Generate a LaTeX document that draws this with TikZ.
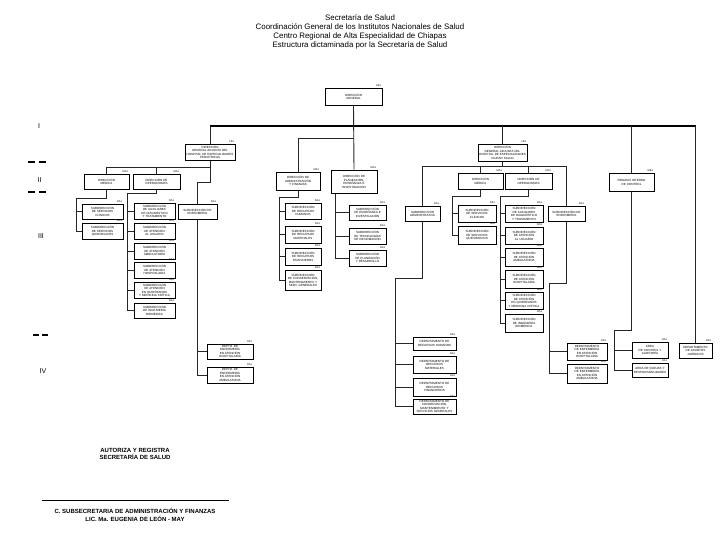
\documentclass[tikz,border=0pt]{standalone}
\usepackage{fontspec}
\setmainfont{Liberation Sans}
\usetikzlibrary{backgrounds}
\tikzset{
  obox/.style={draw=black, line width=0.7pt, fill=white, inner sep=0.3pt, align=center,
    font=\fontsize{3}{3.5}\selectfont},
  codelab/.style={font=\fontsize{2.6}{3}\selectfont, inner sep=0.2pt},
  conn/.style={draw=black!85, line width=0.9pt},
  mainln/.style={draw=black, line width=1.2pt},
  lvl/.style={font=\fontsize{7}{8}\selectfont, inner sep=0pt},
  lvldash/.style={line width=1.4pt},
  sigtext/.style={font=\bfseries\fontsize{6}{7.8}\selectfont, align=center, inner sep=0pt},
}
\newcommand{\orgbox}[7]{%
  \pgfmathsetmacro{\orgW}{#4-#2}%
  \pgfmathsetmacro{\orgH}{#5-#3}%
  \pgfmathsetmacro{\orgT}{#4-#2-1}%
  \pgfmathsetmacro{\orgX}{(#2+#4)/2}%
  \pgfmathsetmacro{\orgY}{(#3+#5)/2}%
  \node[obox, minimum width=\orgW pt, minimum height=\orgH pt, text width=\orgT pt] (#1) at (\orgX,\orgY) {#6};%
  \node[codelab, anchor=south east] at ([xshift=-1pt,yshift=0.6pt]#1.north east) {#7};%
}
\begin{document}
\begin{tikzpicture}[x=1pt,y=-1pt]
\useasboundingbox (0,0) rectangle (720,540);

% title
\node[font=\fontsize{7.9}{9}\selectfont, align=center, inner sep=0pt] (title) at (360,32)
  {Secretaría de Salud\\Coordinación General de los Institutos Nacionales de Salud\\Centro Regional de Alta Especialidad de Chiapas\\Estructura dictaminada por la Secretaría de Salud};

% levels
\node[lvl] (l1) at (39,126) {I};
\node[lvl] (l2) at (39.5,180) {II};
\node[lvl] (l3) at (41,236) {III};
\node[lvl] (l4) at (43,371) {IV};
\draw[lvldash] (28,162) -- (35,162) (39,162) -- (46,162);
\draw[lvldash] (28,192) -- (35,192) (39,192) -- (46,192);
\draw[lvldash] (33,335) -- (39,335) (42,335) -- (48,335);

% top
\orgbox{dg}{325}{88}{382}{105}{DIRECCIÓN\\GENERAL}{KB1}
% level I
\orgbox{dgp}{185}{144}{235}{160}{DIRECCIÓN\\GENERAL ADJUNTA DEL\\HOSPITAL DE ESPECIALIDADES\\PEDIÁTRICAS}{LB1}
\orgbox{dgc}{478}{144}{527}{161}{DIRECCIÓN\\GENERAL ADJUNTA DEL\\HOSPITAL DE ESPECIALIDADES\\CIUDAD SALUD}{LB1}
% level II
\orgbox{dmp}{84}{174}{129}{189}{DIRECCIÓN\\MÉDICA}{MA1}
\orgbox{dop}{133}{174}{180}{189}{DIRECCIÓN DE\\OPERACIONES}{MA1}
\orgbox{dap}{276}{172}{320}{190}{DIRECCIÓN DE\\ADMINISTRACIÓN\\Y FINANZAS}{MA1}
\orgbox{dpe}{331}{170}{377}{193}{DIRECCIÓN DE\\PLANEACIÓN,\\ENSEÑANZA E\\INVESTIGACIÓN}{MA1}
\orgbox{dmc}{458}{173}{503}{189}{DIRECCIÓN\\MÉDICA}{MA1}
\orgbox{doc}{505}{173}{552}{189}{DIRECCIÓN DE\\OPERACIONES}{MA1}
\orgbox{oic}{609}{173}{654}{191}{ÓRGANO INTERNO\\DE CONTROL}{MB1}
% level III pediatric
\orgbox{scp}{82}{204}{123}{219}{SUBDIRECCIÓN\\DE SERVICIOS\\CLÍNICOS}{NA1}
\orgbox{sqp}{82}{223}{123}{239}{SUBDIRECCIÓN\\DE SERVICIOS\\QUIRÚRGICOS}{NA1}
\orgbox{s1p}{134}{203}{175}{219}{SUBDIRECCIÓN\\DE AUXILIARES\\DE DIAGNÓSTICO\\Y TRATAMIENTO}{NA1}
\orgbox{s2p}{134}{223}{175}{239}{SUBDIRECCIÓN\\DE ATENCIÓN\\AL USUARIO}{NA1}
\orgbox{s3p}{134}{243}{175}{259}{SUBDIRECCIÓN\\DE ATENCIÓN\\AMBULATORIA}{NA1}
\orgbox{s4p}{134}{262}{175}{278}{SUBDIRECCIÓN\\DE ATENCIÓN\\HOSPITALARIA}{NA1}
\orgbox{s5p}{134}{282}{175}{298}{SUBDIRECCIÓN\\DE ATENCIÓN\\EN QUIRÓFANOS\\Y MEDICINA CRÍTICA}{NA1}
\orgbox{s6p}{134}{303}{175}{318}{SUBDIRECCIÓN\\DE INGENIERÍA\\BIOMÉDICA}{NA1}
\orgbox{sep}{178}{204}{217}{219}{SUBDIRECCIÓN DE\\ENFERMERÍA}{NA1}
% level III central
\orgbox{sa1}{285}{203}{321}{219}{SUBDIRECCIÓN\\DE RECURSOS\\HUMANOS}{NA1}
\orgbox{sa2}{285}{226}{321}{243}{SUBDIRECCIÓN\\DE RECURSOS\\MATERIALES}{NA1}
\orgbox{sa3}{285}{248}{321}{265}{SUBDIRECCIÓN\\DE RECURSOS\\FINANCIEROS}{NA1}
\orgbox{sa4}{285}{270}{321}{290}{SUBDIRECCIÓN\\DE CONSERVACIÓN,\\MANTENIMIENTO Y\\SERV. GENERALES}{NA1}
\orgbox{sp1}{349}{205}{386}{220}{SUBDIRECCIÓN\\DE ENSEÑANZA E\\INVESTIGACIÓN}{NA1}
\orgbox{sp2}{349}{228}{386}{244}{SUBDIRECCIÓN\\DE TECNOLOGÍAS\\DE INFORMACIÓN}{NA1}
\orgbox{sp3}{349}{250}{386}{266}{SUBDIRECCIÓN\\DE PLANEACIÓN\\Y DESARROLLO}{NA1}
% level III ciudad salud
\orgbox{sad}{405}{206}{440}{221}{SUBDIRECCIÓN\\ADMINISTRATIVA}{NA1}
\orgbox{scc}{458}{205}{496}{222}{SUBDIRECCIÓN\\DE SERVICIOS\\CLÍNICOS}{NA1}
\orgbox{sqc}{458}{226}{496}{244}{SUBDIRECCIÓN\\DE SERVICIOS\\QUIRÚRGICOS}{NA1}
\orgbox{s1c}{505}{205}{543}{222}{SUBDIRECCIÓN\\DE AUXILIARES\\DE DIAGNÓSTICO\\Y TRATAMIENTO}{NA1}
\orgbox{s2c}{505}{227}{543}{244}{SUBDIRECCIÓN\\DE ATENCIÓN\\AL USUARIO}{NA1}
\orgbox{s3c}{505}{248}{543}{266}{SUBDIRECCIÓN\\DE ATENCIÓN\\AMBULATORIA}{NA1}
\orgbox{s4c}{505}{270}{543}{288}{SUBDIRECCIÓN\\DE ATENCIÓN\\HOSPITALARIA}{NA1}
\orgbox{s5c}{505}{292}{543}{309}{SUBDIRECCIÓN\\DE ATENCIÓN\\EN QUIRÓFANOS\\Y MEDICINA CRÍTICA}{NA1}
\orgbox{s6c}{505}{314}{543}{332}{SUBDIRECCIÓN\\DE INGENIERÍA\\BIOMÉDICA}{NA1}
\orgbox{sec}{548}{206}{585}{221}{SUBDIRECCIÓN DE\\ENFERMERÍA}{NA1}
% level IV
\orgbox{dep1}{207}{344}{253}{359}{DEPTO. DE\\ENFERMERÍA\\EN ATENCIÓN\\HOSPITALARIA}{OA1}
\orgbox{dep2}{207}{367}{253}{383}{DEPTO. DE\\ENFERMERÍA\\EN ATENCIÓN\\AMBULATORIA}{OA1}
\orgbox{da1}{413}{337}{456}{350}{DEPARTAMENTO DE\\RECURSOS HUMANOS}{OA1}
\orgbox{da2}{413}{356}{456}{373}{DEPARTAMENTO DE\\RECURSOS\\MATERIALES}{OA1}
\orgbox{da3}{413}{378}{456}{396}{DEPARTAMENTO DE\\RECURSOS\\FINANCIEROS}{OA1}
\orgbox{da4}{413}{399}{456}{414}{DEPARTAMENTO DE\\CONSERVACIÓN,\\MANTENIMIENTO Y\\SERVICIOS GENERALES}{OA1}
\orgbox{dc1}{567}{343}{607}{360}{DEPARTAMENTO\\DE ENFERMERÍA\\EN ATENCIÓN\\HOSPITALARIA}{OA1}
\orgbox{dc2}{567}{364}{607}{383}{DEPARTAMENTO\\DE ENFERMERÍA\\EN ATENCIÓN\\AMBULATORIA}{OA1}
\orgbox{ao1}{632}{342}{668}{358}{ÁREA\\DE CONTROL Y\\AUDITORÍA}{OA1}
\orgbox{ao2}{632}{363}{668}{377}{ÁREA DE QUEJAS Y\\RESPONSABILIDADES}{OA1}
\orgbox{daj}{679}{343}{712}{358}{DEPARTAMENTO\\DE ASUNTOS\\JURÍDICOS}{OA1}

% signature block
\node[sigtext] (aut) at (135,454) {AUTORIZA Y REGISTRA\\SECRETARÍA DE SALUD};
\coordinate (sgL) at (42,500);
\coordinate (sgR) at (229,500);
\draw[line width=0.6pt] (sgL) -- (sgR);
\node[sigtext] (sub) at (135,515) {C. SUBSECRETARIA DE ADMINISTRACIÓN Y FINANZAS\\LIC. Ma. EUGENIA DE LEÓN - MAY};

\begin{scope}[on background layer]
\fill[white] (0,0) rectangle (720,540);
% main level
\coordinate (hL) at (210,126);
\coordinate (hR) at (695.5,126);
\draw[mainln] (hL) -- (hR);
\draw[conn] (hL) -- (dgp.north);
\draw[conn] (dg.south) -- (dpe.north);
\coordinate (ja) at (353.5,138);
\draw[conn] (ja) -| (dap.north);
\draw[conn] (dgc.north) -- (dgc.north |- hL);
\draw[conn] (oic.north) -- (oic.north |- hL);
\draw[conn] (daj.north) -- (daj.north |- hL);
% pediatric
\coordinate (pl) at (210,167);
\draw[conn] (dmp.north) |- (pl);
\draw[conn] (dop.north) -- (dop.north |- pl);
\coordinate (pk) at (210,182);
\coordinate (pe) at (197.5,182);
\draw[conn] (dgp.south) -- (pk) -- (pe) -- (sep.north);
\draw[conn] (sep.south) |- (dep2.west);
\draw[conn] (dep1.west) -- (dep1.west -| sep.south);
\coordinate (lm) at (76,198);
\draw[conn] (dmp.south) |- (lm) |- (sqp.west);
\draw[conn] (scp.west) -- (scp.west -| lm);
\coordinate (lo) at (127,193);
\draw[conn] (dop.south) |- (lo) |- (s6p.west);
\foreach \n in {s1p,s2p,s3p,s4p,s5p} \draw[conn] (\n.west) -- (\n.west -| lo);
% central
\coordinate (la) at (279,197);
\draw[conn] (dap.south) |- (la) |- (sa4.west);
\foreach \n in {sa1,sa2,sa3} \draw[conn] (\n.west) -- (\n.west -| la);
\coordinate (lp) at (335,197);
\draw[conn] (dpe.south -| lp) |- (sp3.west);
\foreach \n in {sp1,sp2} \draw[conn] (\n.west) -- (\n.west -| lp);
% ciudad salud
\coordinate (rh) at (502.5,166);
\coordinate (rl) at (422.5,166);
\coordinate (rr) at (566.5,166);
\draw[conn] (dgc.south) -- (rh);
\draw[conn] (sad.north) -- (rl) -- (rr) -- (sec.north);
\draw[conn] (dmc.north) -- (dmc.north |- rh);
\draw[conn] (doc.north) -- (doc.north |- rh);
\coordinate (mr) at (452,196);
\draw[conn] (dmc.south) |- (mr) |- (sqc.west);
\draw[conn] (scc.west) -- (scc.west -| mr);
\coordinate (orr) at (500,196);
\draw[conn] (doc.south) |- (orr) |- (s6c.west);
\foreach \n in {s1c,s2c,s3c,s4c,s5c} \draw[conn] (\n.west) -- (\n.west -| orr);
\coordinate (ad) at (395,278);
\draw[conn] (sad.south) |- (ad) |- (da4.west);
\foreach \n in {da1,da2,da3} \draw[conn] (\n.west) -- (\n.west -| ad);
\coordinate (ed) at (549,283);
\draw[conn] (sec.south) |- (ed) |- (dc2.west);
\draw[conn] (dc1.west) -- (dc1.west -| ed);
\coordinate (od) at (614,330);
\draw[conn] (oic.south) |- (od) |- (ao2.west);
\draw[conn] (ao1.west) -- (ao1.west -| od);
\end{scope}
\end{tikzpicture}
\end{document}
